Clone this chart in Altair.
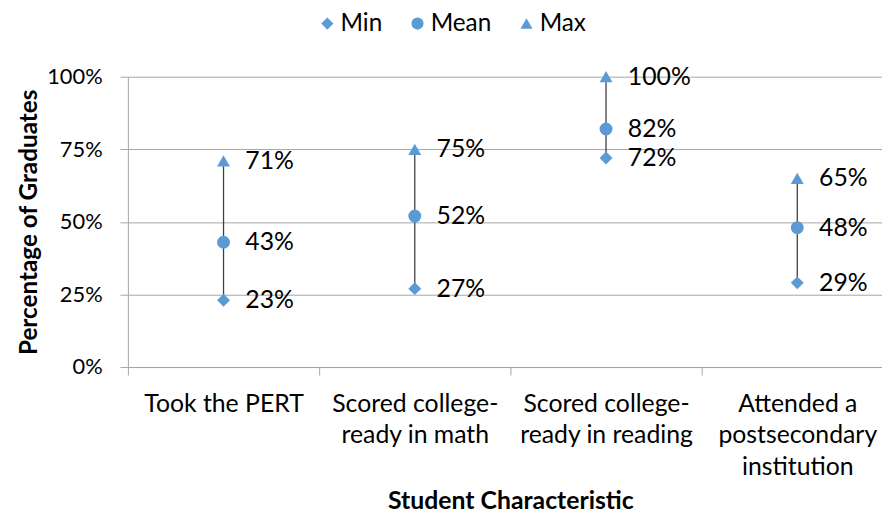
import altair as alt
import pandas as pd

categories = ["Took the PERT", "Scored college-|ready in math",
              "Scored college-|ready in reading", "Attended a|postsecondary|institution"]
min_vals = [0.23, 0.27, 0.72, 0.29]
mean_vals = [0.43, 0.52, 0.82, 0.48]
max_vals = [0.71, 0.75, 1.00, 0.65]
stats = ["Min", "Mean", "Max"]
shapes = ["diamond", "circle", "triangle-up"]

FONT = "Lato"
BLUE = "#5B9BD5"
GRID = "#A6A6A6"
STEP = 193          # pixel width of one category slot
PLOT_W = 761        # visible plot width

wide = pd.DataFrame({"category": categories, "Min": min_vals, "Mean": mean_vals, "Max": max_vals})
wide["pos"] = [i + 0.5 for i in range(len(categories))]
long = wide.melt(id_vars=["category", "pos"], value_vars=stats, var_name="stat", value_name="value")

cat_array = "[" + ",".join("'" + c + "'" for c in categories) + "]"
xscale = alt.Scale(domain=[0, PLOT_W / STEP], nice=False, zero=False)

xenc = alt.X("pos:Q", scale=xscale,
             axis=alt.Axis(title="Student Characteristic", values=list(range(len(categories))),
                           labelExpr="split(" + cat_array + "[datum.value], '|')",
                           labelAngle=0, labelAlign="center", labelOffset=STEP / 2,
                           labelFlush=False, labelOverlap=False, labelBound=False,
                           labelFont=FONT, labelFontSize=25, labelColor="#000000",
                           labelLineHeight=31.5, labelPadding=17, labelBaseline="top",
                           tickSize=8, tickColor=GRID, domainColor=GRID,
                           titleFont=FONT, titleFontSize=25, titleFontWeight="bold",
                           titleColor="#000000", titleBaseline="alphabetic", titleY=143,
                           titleX=STEP * len(categories) / 2, titleAnchor="middle",
                           titleAlign="center", grid=False))

yscale = alt.Scale(domain=[0, 1])

rule = alt.Chart(wide).mark_rule(color="#404040", strokeWidth=1.3).encode(
    x=xenc,
    y=alt.Y("Min:Q", scale=yscale,
            axis=alt.Axis(title="Percentage of Graduates", format=".0%", values=[0, 0.25, 0.5, 0.75, 1],
                          labelFont=FONT, labelFontSize=22, labelColor="#000000", labelPadding=18,
                          tickSize=8, tickColor=GRID, domainColor=GRID, gridColor=GRID,
                          titleFont=FONT, titleFontSize=24.5, titleFontWeight="bold",
                          titleColor="#000000", titlePadding=5)),
    y2="Max:Q",
)

points = alt.Chart(long).mark_point(filled=True, size=170, opacity=1, color=BLUE).encode(
    x=alt.X("pos:Q", scale=xscale),
    y=alt.Y("value:Q", scale=yscale),
    shape=alt.Shape("stat:N", scale=alt.Scale(domain=stats, range=shapes),
                    legend=alt.Legend(title=None, orient="none", direction="horizontal",
                                      legendX=189, legendY=-66, padding=0, labelFont=FONT,
                                      labelFontSize=24.5, labelColor="#000000",
                                      symbolFillColor=BLUE, symbolStrokeColor=BLUE,
                                      symbolSize=150, labelOffset=1, columnPadding=23)),
)

labels = alt.Chart(long).mark_text(align="left", baseline="middle", dx=22, font=FONT,
                                   fontSize=25, color="#000000").encode(
    x=alt.X("pos:Q", scale=xscale),
    y=alt.Y("value:Q", scale=yscale),
    text=alt.Text("value:Q", format=".0%"),
)

chart = alt.layer(rule, points, labels).properties(
    width=PLOT_W, height=293,
    autosize=alt.AutoSizeParams(type="none"),
    padding={"left": 121, "top": 67, "right": 0, "bottom": 150},
).configure_view(stroke=None).configure_axis(gridWidth=1)

chart.save("out.html", embed_options={"renderer": "svg", "actions": False})
